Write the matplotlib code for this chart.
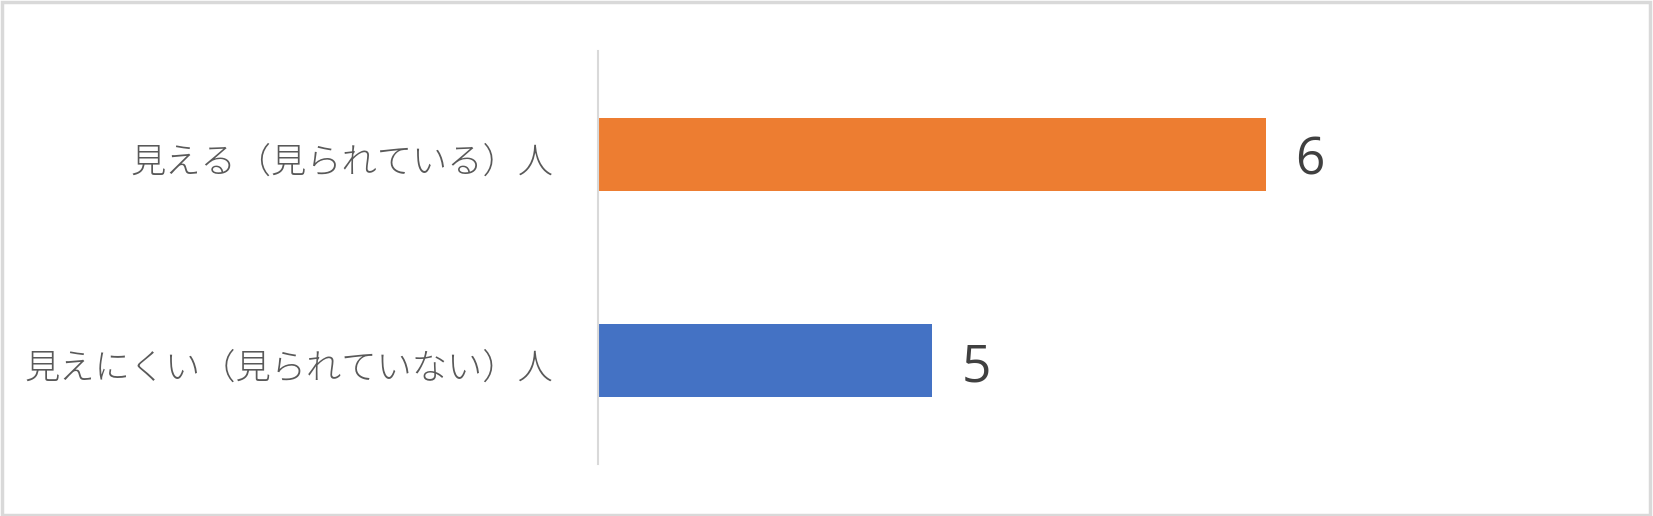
import matplotlib.pyplot as plt
import matplotlib.transforms as mtransforms
from matplotlib.patches import Rectangle

plt.rcParams['font.family'] = ['Noto Sans CJK JP', 'DejaVu Sans']

# データ（上から順）
categories = ['見える（見られている）人', '見えにくい（見られていない）人']
values = [6, 5]
colors = ['#ED7D31', '#4472C4']

fig = plt.figure(figsize=(16.53, 5.16), dpi=100)
ax = fig.add_axes([0.3618, 0.1008, 0.6062, 0.8004])

y = list(range(len(categories)))
bars = ax.barh(y, values, height=0.354, color=colors, linewidth=0)

ax.set_xlim(4, 7)
ax.set_ylim(1.5, -0.5)
ax.set_yticks(y)
ax.set_yticklabels(categories, fontsize=25.4, color='#595959', fontweight='light')
ax.tick_params(axis='y', length=0, pad=32)
ax.set_xticks([])

# ラベルを少し下げる
shift = mtransforms.ScaledTranslation(0, -3 / 72, fig.dpi_scale_trans)
for lbl in ax.get_yticklabels():
    lbl.set_transform(lbl.get_transform() + shift)

for s in ['top', 'right', 'bottom']:
    ax.spines[s].set_visible(False)
ax.spines['left'].set_color('#D9D9D9')
ax.spines['left'].set_linewidth(1.5)

# 値ラベル
for b, v in zip(bars, values):
    ax.annotate(str(v), (b.get_width(), b.get_y() + b.get_height() / 2),
                xytext=(21, -5), textcoords='offset points',
                va='center', ha='left', fontsize=37, color='#404040',
                family=['Open Sans', 'DejaVu Sans'])

# 外枠
fig.patches.append(Rectangle((0.001, 0.002), 0.997, 0.994, transform=fig.transFigure,
                             fill=False, edgecolor='#D9D9D9', linewidth=2.5))

fig.savefig('out.png', dpi=100)
